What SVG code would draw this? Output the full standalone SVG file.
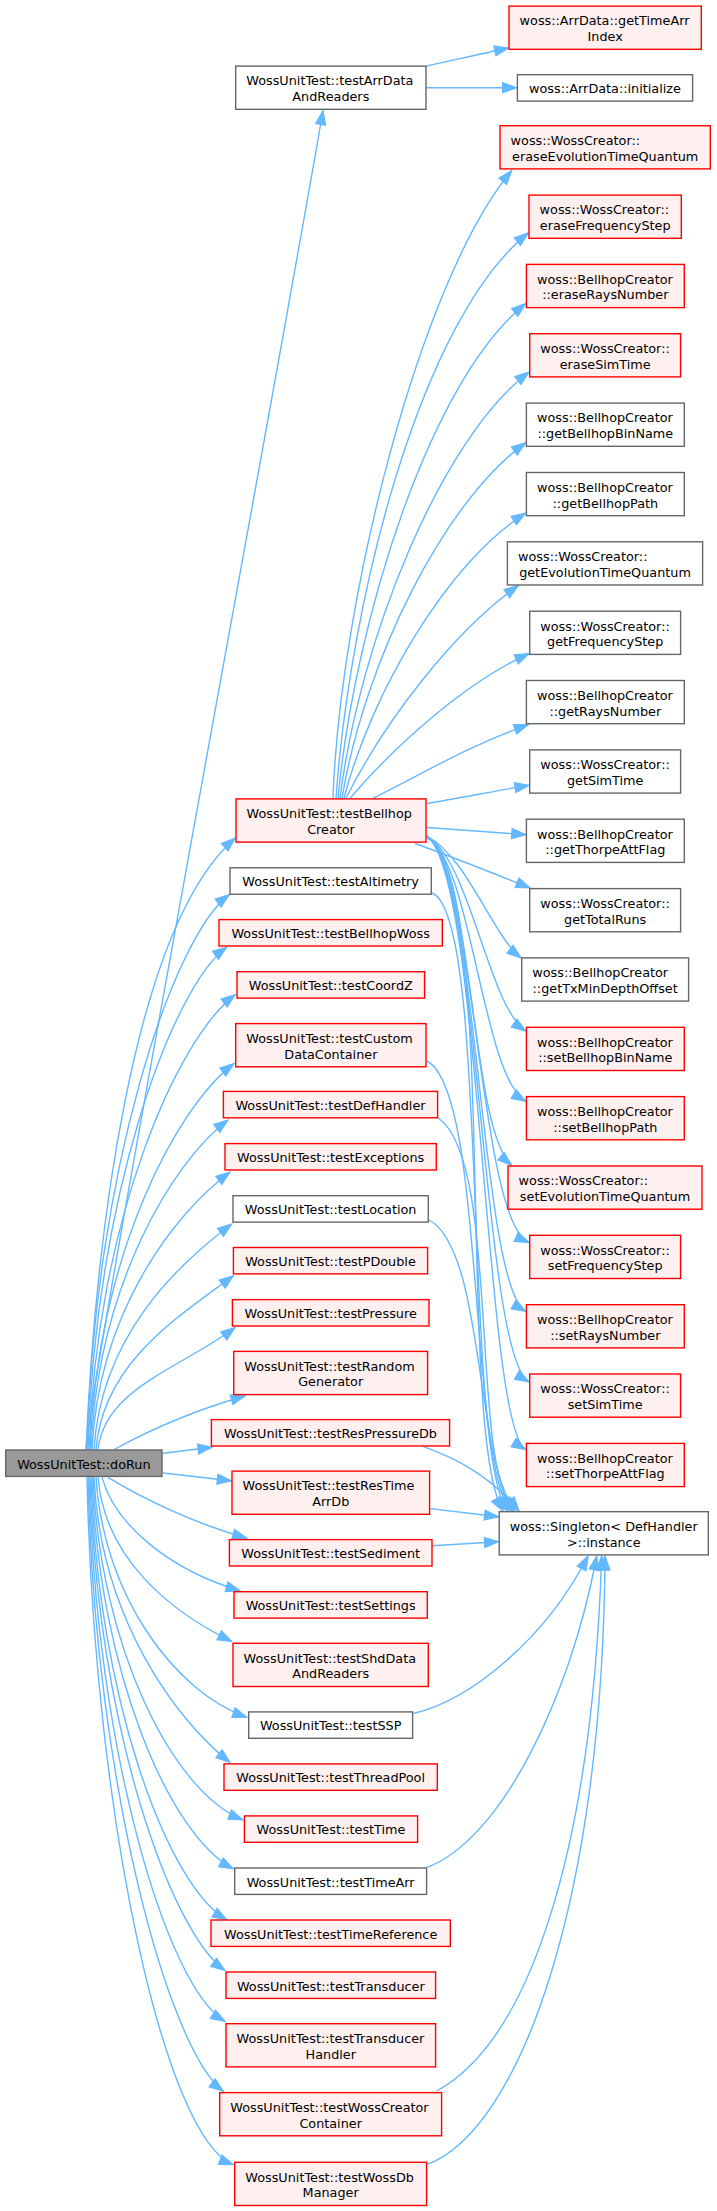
<svg xmlns="http://www.w3.org/2000/svg" width="717" height="2211" viewBox="0 0 717 2211">
<defs>
<style>
.e{fill:none;stroke:#63b8ff;stroke-width:1.4;marker-end:url(#ah)}
.r{fill:#fff0f0;stroke:#ff0000;stroke-width:1.4}
.g{fill:#ffffff;stroke:#666666;stroke-width:1.4}
.k{fill:#999999;stroke:#666666;stroke-width:1.4}
text{font-family:"DejaVu Sans","Liberation Sans",sans-serif;font-size:12.8px;fill:#000000}
.s{text-anchor:start}
.m{text-anchor:middle}
</style>
<marker id="ah" viewBox="-15 -6 16 12" refX="0" refY="0" markerWidth="16" markerHeight="12" markerUnits="userSpaceOnUse" orient="auto" overflow="visible">
<path d="M0,0 L-14,-5 L-14,5 Z" fill="#63b8ff" stroke="#63b8ff" stroke-width="1.2"/>
</marker>
</defs>
<rect x="0" y="0" width="717" height="2211" fill="#ffffff"/>
<g id="edges">
<path class="e" d="M86,1449.5 C90,1380 270,420 323,110.5"/>
<path class="e" d="M86,1449.5 C95,1250 130,930 235.3,838"/>
<path class="e" d="M87,1449.5 C94.1,1171.8 172.4,937.3 229.3,894.6"/>
<path class="e" d="M88,1449.5 C94.9,1198 171.2,988.6 226.7,947"/>
<path class="e" d="M89,1449.5 C96.3,1221.8 176.8,1038.5 235.3,994.6"/>
<path class="e" d="M90,1449.5 C97.2,1256.3 176.4,1106.8 234,1063.6"/>
<path class="e" d="M91,1449.5 C97.9,1284.5 173.2,1161.1 228,1120"/>
<path class="e" d="M92,1449.5 C98.9,1310.5 174.8,1213.4 230,1172"/>
<path class="e" d="M94,1449.5 C100.9,1336.5 176.6,1265.3 231.7,1224"/>
<path class="e" d="M96,1449.5 C102.9,1362.4 178.4,1316.9 233.3,1275.7"/>
<path class="e" d="M98,1449.5 C104.9,1388.3 180.2,1368.6 235,1327.5"/>
<path class="e" d="M114,1449.5 C150,1430 195,1410 245,1396"/>
<path class="e" d="M163,1453.3 L212,1447.3"/>
<path class="e" d="M163,1473 L231.3,1480.7"/>
<path class="e" d="M108,1477.3 C140,1497 195,1524 246.7,1538"/>
<path class="e" d="M102,1477.3 C115,1525 170,1570 240,1590.7"/>
<path class="e" d="M98,1477.3 C104.7,1559.4 171.4,1612 231.7,1641.5"/>
<path class="e" d="M96,1477.3 C103.5,1597.3 176.2,1692.5 246.7,1717.2"/>
<path class="e" d="M94,1477.3 C100.8,1619.9 177,1720.3 230,1762.5"/>
<path class="e" d="M93,1477.3 C100.5,1648.5 173,1792 242.7,1819.8"/>
<path class="e" d="M92,1477.3 C99,1673 170.4,1836.3 233.3,1868.8"/>
<path class="e" d="M91,1477.3 C97.8,1698.5 167.6,1885.7 226.7,1919.7"/>
<path class="e" d="M90,1477.3 C96.8,1724 170.3,1931.4 225,1970.5"/>
<path class="e" d="M89,1477.3 C95.8,1749.4 166.5,1986.7 225,2021.4"/>
<path class="e" d="M88,1477.3 C94.8,1784.3 169.1,2050.6 223.3,2091.2"/>
<path class="e" d="M87,1477.3 C94.3,1821 165.4,2139.1 233.3,2164.7"/>
<path class="e" d="M426.7,66 C450,61 480,54 508.5,48"/>
<path class="e" d="M426.7,87.7 L516.7,87.7"/>
<path class="e" d="M333,798.2 C340,600 420,280 511.7,170.6"/>
<path class="e" d="M336,798.2 C350,600 420,320 528.3,232.9"/>
<path class="e" d="M338,798.2 C355,620 430,380 525.7,303.6"/>
<path class="e" d="M340,798.2 C360,640 440,440 529,372"/>
<path class="e" d="M342,798.2 C365,660 445,500 525.7,442.9"/>
<path class="e" d="M344,798.2 C372,690 450,560 525.7,513.2"/>
<path class="e" d="M346,798.2 C385,720 455,630 518.3,585.6"/>
<path class="e" d="M350,798.2 C400,740 470,680 529,653.6"/>
<path class="e" d="M373,798.2 C420,775 470,745 528.3,724.6"/>
<path class="e" d="M426.7,803.6 C460,798 495,791 529,785.4"/>
<path class="e" d="M426.7,827.5 L525.7,834.6"/>
<path class="e" d="M415,843.5 C450,856 490,872 530,887.9"/>
<path class="e" d="M426.7,836 C468,858 492,935 521,957.9"/>
<path class="e" d="M426.7,836 C470,860 488,1005 525.7,1031"/>
<path class="e" d="M426.7,836 C472,862 482,1075 525.7,1101.4"/>
<path class="e" d="M426.7,836 C474,865 470,1130 511.7,1165.3"/>
<path class="e" d="M426.7,836 C476,868 478,1220 529,1242.5"/>
<path class="e" d="M426.7,836 C478,870 480,1285 525.7,1311.4"/>
<path class="e" d="M426.7,836 C480,872 482,1355 529,1381.8"/>
<path class="e" d="M426.7,836 C482,875 484,1425 525.7,1449.6"/>
<path class="e" d="M426.7,838 C500,870 455,1430 503,1511"/>
<path class="e" d="M432,893 C490,915 462,1440 507,1511"/>
<path class="e" d="M426.7,1061 C485,1090 468,1450 510,1511"/>
<path class="e" d="M438.3,1118 C500,1160 470,1455 512.5,1511"/>
<path class="e" d="M429,1220 C485,1250 475,1460 515,1511"/>
<path class="e" d="M423,1446.4 C455,1458 490,1475 519,1511"/>
<path class="e" d="M430.3,1508.6 L498.5,1516.7"/>
<path class="e" d="M432.7,1545.7 L498.5,1541.7"/>
<path class="e" d="M413.3,1713.5 C470,1700 545,1640 588,1556"/>
<path class="e" d="M427.3,1867.3 C500,1840 570,1700 596.7,1556"/>
<path class="e" d="M436.7,2091 C530,2040 592,1850 601.7,1556"/>
<path class="e" d="M426.7,2164.6 C520,2130 603,1900 605,1556"/>
</g>
<g id="n-doRun"><rect class="k" x="5.7" y="1450" width="156.3" height="26.4"/><text class="m" x="83.85" y="1468.5">WossUnitTest::doRun</text></g>
<g id="n-testArrDataAndReaders"><rect class="g" x="235.7" y="66.1" width="190.3" height="43.2"/><text class="s" x="246.3" y="85.4">WossUnitTest::testArrData</text><text class="m" x="330.85" y="101.1">AndReaders</text></g>
<g id="n-testBellhopCreator"><rect class="r" x="236" y="798.9" width="190" height="43.2"/><text class="s" x="246.6" y="818.2">WossUnitTest::testBellhop</text><text class="m" x="331" y="833.9">Creator</text></g>
<g id="n-testAltimetry"><rect class="g" x="230" y="867.8" width="201.3" height="26.4"/><text class="m" x="330.65" y="886.3">WossUnitTest::testAltimetry</text></g>
<g id="n-testBellhopWoss"><rect class="r" x="219" y="919.6" width="223.3" height="26.4"/><text class="m" x="330.65" y="938.1">WossUnitTest::testBellhopWoss</text></g>
<g id="n-testCoordZ"><rect class="r" x="237" y="971.7" width="187.6" height="26.4"/><text class="m" x="330.8" y="990.2">WossUnitTest::testCoordZ</text></g>
<g id="n-testCustomDataContainer"><rect class="r" x="235.7" y="1023.6" width="190.3" height="43.2"/><text class="s" x="246.3" y="1042.9">WossUnitTest::testCustom</text><text class="m" x="330.85" y="1058.6">DataContainer</text></g>
<g id="n-testDefHandler"><rect class="r" x="223.4" y="1091.4" width="214.2" height="26.4"/><text class="m" x="330.5" y="1109.9">WossUnitTest::testDefHandler</text></g>
<g id="n-testExceptions"><rect class="r" x="225" y="1143.6" width="211.3" height="26.4"/><text class="m" x="330.65" y="1162.1">WossUnitTest::testExceptions</text></g>
<g id="n-testLocation"><rect class="g" x="233" y="1195.7" width="195.3" height="26.4"/><text class="m" x="330.65" y="1214.2">WossUnitTest::testLocation</text></g>
<g id="n-testPDouble"><rect class="r" x="233.4" y="1247.5" width="194.2" height="26.4"/><text class="m" x="330.5" y="1266">WossUnitTest::testPDouble</text></g>
<g id="n-testPressure"><rect class="r" x="232.4" y="1299.6" width="196.6" height="26.4"/><text class="m" x="330.7" y="1318.1">WossUnitTest::testPressure</text></g>
<g id="n-testRandomGenerator"><rect class="r" x="233.7" y="1351.4" width="193.9" height="43.2"/><text class="s" x="244.3" y="1370.7">WossUnitTest::testRandom</text><text class="m" x="330.65" y="1386.4">Generator</text></g>
<g id="n-testResPressureDb"><rect class="r" x="211.4" y="1419.6" width="238.2" height="26.4"/><text class="m" x="330.5" y="1438.1">WossUnitTest::testResPressureDb</text></g>
<g id="n-testResTimeArrDb"><rect class="r" x="232" y="1471.1" width="197.6" height="43.2"/><text class="s" x="242.6" y="1490.4">WossUnitTest::testResTime</text><text class="m" x="330.8" y="1506.1">ArrDb</text></g>
<g id="n-testSediment"><rect class="r" x="229.4" y="1539.6" width="202.6" height="26.4"/><text class="m" x="330.7" y="1558.1">WossUnitTest::testSediment</text></g>
<g id="n-testSettings"><rect class="r" x="234" y="1591.7" width="193.3" height="26.4"/><text class="m" x="330.65" y="1610.2">WossUnitTest::testSettings</text></g>
<g id="n-testShdDataAndReaders"><rect class="r" x="233" y="1643.3" width="195.3" height="43.2"/><text class="s" x="243.6" y="1662.6">WossUnitTest::testShdData</text><text class="m" x="330.65" y="1678.3">AndReaders</text></g>
<g id="n-testSSP"><rect class="g" x="248.7" y="1711.9" width="163.9" height="26.4"/><text class="m" x="330.65" y="1730.4">WossUnitTest::testSSP</text></g>
<g id="n-testThreadPool"><rect class="r" x="224" y="1763.9" width="213.3" height="26.4"/><text class="m" x="330.65" y="1782.4">WossUnitTest::testThreadPool</text></g>
<g id="n-testTime"><rect class="r" x="244.4" y="1815.9" width="173.2" height="26.4"/><text class="m" x="331" y="1834.4">WossUnitTest::testTime</text></g>
<g id="n-testTimeArr"><rect class="g" x="234.7" y="1868" width="191.9" height="26.4"/><text class="m" x="330.65" y="1886.5">WossUnitTest::testTimeArr</text></g>
<g id="n-testTimeReference"><rect class="r" x="211" y="1920" width="239.3" height="26.4"/><text class="m" x="330.65" y="1938.5">WossUnitTest::testTimeReference</text></g>
<g id="n-testTransducer"><rect class="r" x="226" y="1972" width="209.6" height="26.4"/><text class="m" x="330.8" y="1990.5">WossUnitTest::testTransducer</text></g>
<g id="n-testTransducerHandler"><rect class="r" x="226" y="2023.7" width="209.6" height="43.2"/><text class="s" x="236.6" y="2043">WossUnitTest::testTransducer</text><text class="m" x="330.8" y="2058.7">Handler</text></g>
<g id="n-testWossCreatorContainer"><rect class="r" x="219.7" y="2092.6" width="221.9" height="43.2"/><text class="s" x="230.3" y="2111.9">WossUnitTest::testWossCreator</text><text class="m" x="330.65" y="2127.6">Container</text></g>
<g id="n-testWossDbManager"><rect class="r" x="234.7" y="2162.3" width="191.9" height="43.2"/><text class="s" x="245.3" y="2181.6">WossUnitTest::testWossDb</text><text class="m" x="330.65" y="2197.3">Manager</text></g>
<g id="n-getTimeArrIndex"><rect class="r" x="509" y="6.1" width="192.3" height="43.2"/><text class="s" x="519.6" y="25.4">woss::ArrData::getTimeArr</text><text class="m" x="605.15" y="41.1">Index</text></g>
<g id="n-initialize"><rect class="g" x="517.4" y="74.7" width="175.2" height="26.4"/><text class="m" x="605" y="93.2">woss::ArrData::initialize</text></g>
<g id="n-eraseEvolutionTimeQuantum"><rect class="r" x="500" y="125.7" width="210.3" height="43.2"/><text class="s" x="510.6" y="145">woss::WossCreator::</text><text class="m" x="605.15" y="160.7">eraseEvolutionTimeQuantum</text></g>
<g id="n-eraseFrequencyStep"><rect class="r" x="529" y="195.1" width="152.3" height="43.2"/><text class="s" x="539.6" y="214.4">woss::WossCreator::</text><text class="m" x="605.15" y="230.1">eraseFrequencyStep</text></g>
<g id="n-eraseRaysNumber"><rect class="r" x="526.4" y="264.4" width="157.9" height="43.2"/><text class="s" x="537" y="283.7">woss::BellhopCreator</text><text class="m" x="605.35" y="299.4">::eraseRaysNumber</text></g>
<g id="n-eraseSimTime"><rect class="r" x="529.7" y="333.7" width="150.9" height="43.2"/><text class="s" x="540.3" y="353">woss::WossCreator::</text><text class="m" x="605.15" y="368.7">eraseSimTime</text></g>
<g id="n-getBellhopBinName"><rect class="g" x="526.4" y="403.1" width="157.9" height="43.2"/><text class="s" x="537" y="422.4">woss::BellhopCreator</text><text class="m" x="605.35" y="438.1">::getBellhopBinName</text></g>
<g id="n-getBellhopPath"><rect class="g" x="526.4" y="472.5" width="157.9" height="43.2"/><text class="s" x="537" y="491.8">woss::BellhopCreator</text><text class="m" x="605.35" y="507.5">::getBellhopPath</text></g>
<g id="n-getEvolutionTimeQuantum"><rect class="g" x="507.4" y="541.8" width="195.2" height="43.2"/><text class="s" x="518" y="561.1">woss::WossCreator::</text><text class="m" x="605" y="576.8">getEvolutionTimeQuantum</text></g>
<g id="n-getFrequencyStep"><rect class="g" x="529.7" y="611.2" width="150.9" height="43.2"/><text class="s" x="540.3" y="630.5">woss::WossCreator::</text><text class="m" x="605.15" y="646.2">getFrequencyStep</text></g>
<g id="n-getRaysNumber"><rect class="g" x="526.4" y="680.5" width="157.9" height="43.2"/><text class="s" x="537" y="699.8">woss::BellhopCreator</text><text class="m" x="605.35" y="715.5">::getRaysNumber</text></g>
<g id="n-getSimTime"><rect class="g" x="529.7" y="749.9" width="150.9" height="43.2"/><text class="s" x="540.3" y="769.2">woss::WossCreator::</text><text class="m" x="605.15" y="784.9">getSimTime</text></g>
<g id="n-getThorpeAttFlag"><rect class="g" x="526.4" y="819.2" width="157.9" height="43.2"/><text class="s" x="537" y="838.5">woss::BellhopCreator</text><text class="m" x="605.35" y="854.2">::getThorpeAttFlag</text></g>
<g id="n-getTotalRuns"><rect class="g" x="529.7" y="888.6" width="150.9" height="43.2"/><text class="s" x="540.3" y="907.9">woss::WossCreator::</text><text class="m" x="605.15" y="923.6">getTotalRuns</text></g>
<g id="n-getTxMinDepthOffset"><rect class="g" x="521.7" y="957.9" width="166.9" height="43.2"/><text class="s" x="532.3" y="977.2">woss::BellhopCreator</text><text class="m" x="605.15" y="992.9">::getTxMinDepthOffset</text></g>
<g id="n-setBellhopBinName"><rect class="r" x="526.4" y="1027.3" width="157.9" height="43.2"/><text class="s" x="537" y="1046.6">woss::BellhopCreator</text><text class="m" x="605.35" y="1062.3">::setBellhopBinName</text></g>
<g id="n-setBellhopPath"><rect class="r" x="526.4" y="1096.6" width="157.9" height="43.2"/><text class="s" x="537" y="1115.9">woss::BellhopCreator</text><text class="m" x="605.35" y="1131.6">::setBellhopPath</text></g>
<g id="n-setEvolutionTimeQuantum"><rect class="r" x="508" y="1166" width="194" height="43.2"/><text class="s" x="518.6" y="1185.3">woss::WossCreator::</text><text class="m" x="605" y="1201">setEvolutionTimeQuantum</text></g>
<g id="n-setFrequencyStep"><rect class="r" x="529.7" y="1235.3" width="150.9" height="43.2"/><text class="s" x="540.3" y="1254.6">woss::WossCreator::</text><text class="m" x="605.15" y="1270.3">setFrequencyStep</text></g>
<g id="n-setRaysNumber"><rect class="r" x="526.4" y="1304.7" width="157.9" height="43.2"/><text class="s" x="537" y="1324">woss::BellhopCreator</text><text class="m" x="605.35" y="1339.7">::setRaysNumber</text></g>
<g id="n-setSimTime"><rect class="r" x="529.7" y="1374" width="150.9" height="43.2"/><text class="s" x="540.3" y="1393.3">woss::WossCreator::</text><text class="m" x="605.15" y="1409">setSimTime</text></g>
<g id="n-setThorpeAttFlag"><rect class="r" x="526.4" y="1443.4" width="157.9" height="43.2"/><text class="s" x="537" y="1462.7">woss::BellhopCreator</text><text class="m" x="605.35" y="1478.4">::setThorpeAttFlag</text></g>
<g id="n-instance"><rect class="g" x="499.2" y="1511.7" width="209.1" height="43.2"/><text class="s" x="509.8" y="1531">woss::Singleton&lt; DefHandler</text><text class="m" x="603.75" y="1546.7">&gt;::instance</text></g>
</svg>
